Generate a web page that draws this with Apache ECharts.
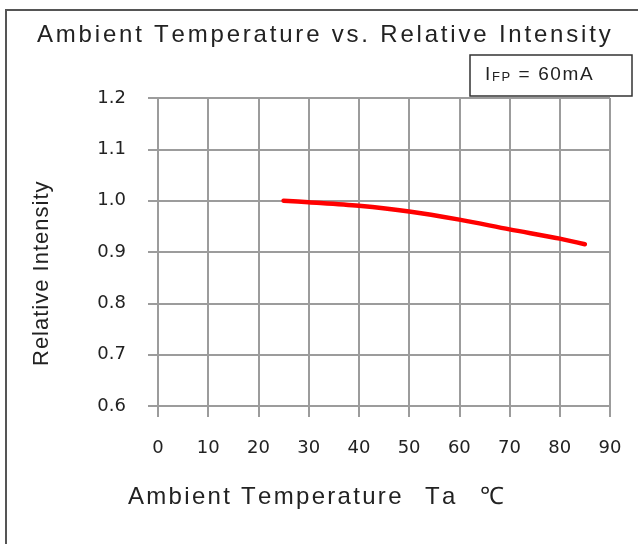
<!DOCTYPE html>
<html>
<head>
<meta charset="utf-8">
<script src="https://cdn.jsdelivr.net/npm/echarts@6/dist/echarts.min.js"></script>
<style>
  html, body { margin: 0; padding: 0; background: #fff; }
  #chart { width: 638px; height: 544px; }
</style>
</head>
<body>
<div id="chart"></div>
<script>
// Ambient temperature (°C) and the relative luminous intensity at IFP = 60 mA
const temperatures = [25, 30, 40, 50, 60, 70, 80, 85];
const intensity = [1.000, 0.997, 0.990, 0.979, 0.963, 0.944, 0.926, 0.915];

// Axis ranges and tick labels
const xTicks = [0, 10, 20, 30, 40, 50, 60, 70, 80, 90];
const yTicks = [0.6, 0.7, 0.8, 0.9, 1.0, 1.1, 1.2];

const TEXT = '#222';
const GRID = '#9c9c9c';
const SANS = '"Liberation Sans", Arial, sans-serif';
const TICK_FONT = 'DejaVu Sans';

// Canvas used only to measure glyph widths for letter-spaced text
const measureCtx = document.createElement('canvas').getContext('2d');
function textWidth(str, font) {
  measureCtx.font = font;
  return measureCtx.measureText(str).width;
}

// Lay out runs of text character by character with extra tracking.
// Each run: { text, size, dy, x } (x optionally restarts the pen position)
function spacedText(runs, spacing, family, z) {
  const children = [];
  let pen = 0;
  runs.forEach(run => {
    if (run.x !== undefined) pen = run.x;
    const font = run.size + 'px ' + family;
    for (const ch of run.text) {
      children.push({
        type: 'text',
        x: pen,
        y: run.dy || 0,
        z: z || 0,
        style: {
          text: ch,
          font: font,
          fill: TEXT,
          align: 'left',
          verticalAlign: 'middle',
          textAlign: 'left',
          textVerticalAlign: 'middle'
        }
      });
      pen += textWidth(ch, font) + spacing;
    }
  });
  return children;
}

const chart = echarts.init(document.getElementById('chart'), null, { renderer: 'canvas' });

chart.setOption({
  backgroundColor: '#fff',
  animation: false,
  grid: { left: 158, right: 28, top: 98, bottom: 138, containLabel: false },
  xAxis: {
    type: 'value',
    min: xTicks[0],
    max: xTicks[xTicks.length - 1],
    interval: 10,
    axisLine: { show: true, lineStyle: { color: GRID, width: 2 } },
    axisTick: { show: true, inside: false, length: 11, lineStyle: { color: GRID, width: 2 } },
    splitLine: { show: true, lineStyle: { color: GRID, width: 2 } },
    axisLabel: {
      margin: 33,
      color: TEXT,
      fontSize: 18,
      fontFamily: TICK_FONT,
      formatter: v => String(v)
    }
  },
  yAxis: {
    type: 'value',
    min: yTicks[0],
    max: yTicks[yTicks.length - 1],
    interval: 0.1,
    axisLine: { show: true, lineStyle: { color: GRID, width: 2 } },
    axisTick: { show: true, inside: false, length: 10, lineStyle: { color: GRID, width: 2 } },
    splitLine: { show: true, lineStyle: { color: GRID, width: 2 } },
    axisLabel: {
      margin: 32,
      color: TEXT,
      fontSize: 18,
      fontFamily: TICK_FONT,
      formatter: v => v.toFixed(1)
    }
  },
  series: [{
    type: 'line',
    data: temperatures.map((t, i) => [t, intensity[i]]),
    smooth: 0.3,
    showSymbol: false,
    lineStyle: { color: '#ff0000', width: 4.5, cap: 'round' },
    z: 5
  }],
  graphic: [
    // outer frame
    {
      type: 'rect',
      shape: { x: 6, y: 10, width: 700, height: 600 },
      style: { fill: 'none', stroke: '#555', lineWidth: 2 },
      silent: true
    },
    // title
    {
      type: 'group',
      x: 37, y: 35,
      children: spacedText([{ text: 'Ambient Temperature vs. Relative Intensity', size: 24 }], 2.8, SANS)
    },
    // condition box
    {
      type: 'rect',
      shape: { x: 470, y: 55, width: 162, height: 41 },
      style: { fill: '#fff', stroke: '#333', lineWidth: 1.5 },
      z: 10
    },
    {
      type: 'group',
      x: 485, y: 75,
      children: spacedText([
        { text: 'I', size: 19 },
        { text: 'FP', size: 13, dy: 2 },
        { text: ' = 60mA', size: 19 }
      ], 1.6, SANS, 11)
    },
    // x-axis title
    {
      type: 'group',
      x: 128, y: 497,
      children: spacedText([
        { text: 'Ambient Temperature', size: 24 },
        { text: 'Ta', size: 24, x: 297 },
        { text: '℃', size: 24, x: 352 }
      ], 2.3, SANS)
    },
    // y-axis title
    {
      type: 'group',
      x: 42, y: 366,
      rotation: Math.PI / 2,
      children: spacedText([{ text: 'Relative Intensity', size: 22 }], 1.0, SANS)
    }
  ]
});
</script>
</body>
</html>
